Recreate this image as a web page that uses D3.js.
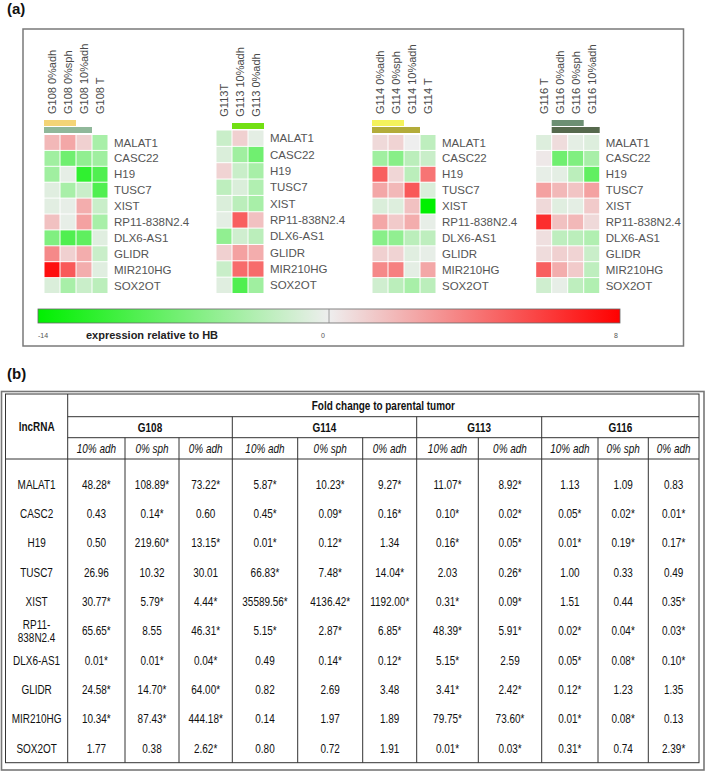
<!DOCTYPE html>
<html><head><meta charset="utf-8">
<script src="https://cdn.jsdelivr.net/npm/d3@7"></script>
<style>body{margin:0;background:#fff}svg{display:block;font-family:Arial,"Liberation Sans",sans-serif}</style>
</head><body><svg id="c" width="707" height="772"></svg>
<script>
// ---------- Panel (a) data ----------
const genes = ["MALAT1","CASC22","H19","TUSC7","XIST","RP11-838N2.4","DLX6-AS1","GLIDR","MIR210HG","SOX2OT"];
const g108Cols = ["G108 0%adh","G108 0%sph","G108 10%adh","G108 T"];
const g113Cols = ["G113T","G113 10%adh","G113 0%adh"];
const g114Cols = ["G114 0%adh","G114 0%sph","G114 10%adh","G114 T"];
const g116Cols = ["G116 T","G116 0%adh","G116 0%sph","G116 10%adh"];
const g108Vals = [[1.8,2.4,1,-4.1],[-4.6,-7.4,-5.5,-4.6],[-4.6,-0.5,-11.2,-9.3],[-0.8,-4.1,-2.2,-9.3],[-0.7,-0.4,2.2,-2.2],
  [1.5,-0.4,2.6,-4.1],[-6.5,-9.3,-8.4,-0.8],[3.4,1,2.2,-2.2],[7.5,5,2.2,-0.8],[-1.2,-4.1,-2.2,-3]];
const g113Vals = [[-2.2,1,-0.6],[-1.2,-4.6,-7.4],[0.9,-2.2,-4.1],[-2.8,-1.2,-3.6],[-1.2,-3,-4.1],
  [-0.6,4.8,1.5],[-5.5,-1.8,-3],[1,2.6,2.2],[-2.2,4.4,4.4],[-0.8,-9.3,-4.6]];
const g114Vals = [[0.7,0.9,0,-2.8],[-4.6,-6,-3,-2.2],[4.8,0.8,-3,4.1],[2.4,1.8,5,-1.2],[-1.2,-1,1.5,-14],
  [2.4,1.2,2.2,-0.4],[-6,-5.5,-3,-2.8],[1,0.9,-0.8,-0.4],[3.4,3.7,-0.6,2.4],[-1.8,-3,-4.1,-3]];
const g116Vals = [[-1,0.6,-0.6,-1],[0.2,-7.4,-6.5,-4.1],[-0.4,-0.6,-3,-8.3],[2.6,1.8,1.4,2.6],[0.7,-0.8,-0.6,1.2],
  [6.5,1.5,1.8,0.7],[0.5,-2.8,-3,-3.6],[0.6,1,0.9,-2.2],[4.8,2.2,1.2,-2.8],[-1.8,-0.4,-2.8,-3.6]];
// annotation bars: [level, first column index, last column index]
const g108Bars = [[0,0,1],[1,0,2]];
const g113Bars = [[0,1,2]];
const g114Bars = [[0,0,1],[1,0,2]];
const g116Bars = [[0,1,2],[1,1,3]];
const colorTicks = [-14,0,8];
const colorDomain = [-14,0,8];
const colorTitle = "expression relative to HB";

// ---------- Panel (b) data ----------
const tableTitle = "Fold change to parental tumor";
const tableRowHead = "lncRNA";
const tableGroups = ["G108","G114","G113","G116"];
const tableSubs = [["10% adh","0% sph","0% adh"],["10% adh","0% sph","0% adh"],["10% adh","0% adh"],["10% adh","0% sph","0% adh"]];
const tableRows = ["MALAT1","CASC2","H19","TUSC7","XIST","RP11-\n838N2.4","DLX6-AS1","GLIDR","MIR210HG","SOX2OT"];
const foldValues = [
 ["48.28*","108.89*","73.22*","5.87*","10.23*","9.27*","11.07*","8.92*","1.13","1.09","0.83"],
 ["0.43","0.14*","0.60","0.45*","0.09*","0.16*","0.10*","0.02*","0.05*","0.02*","0.01*"],
 ["0.50","219.60*","13.15*","0.01*","0.12*","1.34","0.16*","0.05*","0.01*","0.19*","0.17*"],
 ["26.96","10.32","30.01","66.83*","7.48*","14.04*","2.03","0.26*","1.00","0.33","0.49"],
 ["30.77*","5.79*","4.44*","35589.56*","4136.42*","1192.00*","0.31*","0.09*","1.51","0.44","0.35*"],
 ["65.65*","8.55","46.31*","5.15*","2.87*","6.85*","48.39*","5.91*","0.02*","0.04*","0.03*"],
 ["0.01*","0.01*","0.04*","0.49","0.14*","0.12*","5.15*","2.59","0.05*","0.08*","0.10*"],
 ["24.58*","14.70*","64.00*","0.82","2.69","3.48","3.41*","2.42*","0.12*","1.23","1.35"],
 ["10.34*","87.43*","444.18*","0.14","1.97","1.89","79.75*","73.60*","0.01*","0.08*","0.13"],
 ["1.77","0.38","2.62*","0.80","0.72","1.91","0.01*","0.03*","0.31*","0.74","2.39*"]
];

// ---------- layout / styles ----------
const svg = d3.select("#c");
svg.append("rect").attr("width",707).attr("height",772).attr("fill","#fff");

const color = d3.scaleLinear().domain(colorDomain).range(["#00f000","#eeeeee","#ff0000"]);

svg.append("text").attr("x",7).attr("y",14).attr("font-size",15).attr("font-weight","bold").attr("fill","#111").text("(a)");
svg.append("rect").attr("x",23).attr("y",29).attr("width",660.5).attr("height",317)
  .attr("fill","none").attr("stroke","#7a7a7a").attr("stroke-width",1.5);

const blocks = [
  {cols:g108Cols, vals:g108Vals, bars:g108Bars, x0:44, top:134.5, barTop:120, labBase:114, barColors:["#f3d477","#90b89a"]},
  {cols:g113Cols, vals:g113Vals, bars:g113Bars, x0:216, top:130, barTop:123, labBase:116.7, barColors:["#72e012"]},
  {cols:g114Cols, vals:g114Vals, bars:g114Bars, x0:372, top:134.5, barTop:120, labBase:114, barColors:["#f4f25c","#b3ac3a"]},
  {cols:g116Cols, vals:g116Vals, bars:g116Bars, x0:535.7, top:134.5, barTop:120, labBase:114, barColors:["#6c8f73","#56694d"]}
];
const cw = 16, bottom = 293.5;

blocks.forEach(b => {
  const x = d3.scaleBand().domain(b.cols).range([b.x0, b.x0 + cw*b.cols.length]);
  const y = d3.scaleBand().domain(genes).range([b.top, bottom]);
  const g = svg.append("g");
  const cells = [];
  b.vals.forEach((row,i) => row.forEach((v,j) => cells.push({gene:genes[i], col:b.cols[j], v})));
  g.selectAll("rect.cell").data(cells).join("rect").attr("class","cell")
    .attr("x", d => x(d.col)+0.5).attr("y", d => y(d.gene)+0.5)
    .attr("width", x.bandwidth()-1).attr("height", y.bandwidth()-1)
    .attr("fill", d => color(d.v));
  // column labels
  g.selectAll("text.col").data(b.cols).join("text").attr("class","col")
    .attr("transform", d => `translate(${x(d)+x.bandwidth()/2+4},${b.labBase}) rotate(-90)`)
    .attr("font-size",11).attr("fill","#4a4a4a").text(d => d);
  // annotation bars
  g.selectAll("rect.bar").data(b.bars).join("rect").attr("class","bar")
    .attr("x", d => x(b.cols[d[1]])).attr("y", d => b.barTop + d[0]*7)
    .attr("width", d => x(b.cols[d[2]]) + x.bandwidth() - x(b.cols[d[1]])).attr("height",6)
    .attr("fill", (d,i) => b.barColors[i]);
  // row labels
  const lx = b.x0 + cw*b.cols.length + 6;
  g.selectAll("text.row").data(genes).join("text").attr("class","row")
    .attr("x", lx).attr("y", d => y(d) + y.bandwidth()/2).attr("dy","0.36em")
    .attr("font-size",11.5).attr("fill","#555").text(d => d);
});

// color bar
const cb = d3.scaleLinear().domain(colorDomain).range([38,329,620]);
const defs = svg.append("defs");
const grad = defs.append("linearGradient").attr("id","cbg").attr("x1","0%").attr("x2","100%");
colorDomain.forEach(v => grad.append("stop").attr("offset", ((cb(v)-cb(-14))/(cb(8)-cb(-14))*100)+"%").attr("stop-color", color(v)));
svg.append("rect").attr("x",cb(-14)).attr("y",309).attr("width",cb(8)-cb(-14)).attr("height",14)
  .attr("fill","url(#cbg)").attr("stroke","#666").attr("stroke-width",0.8);
svg.append("line").attr("x1",cb(0)).attr("x2",cb(0)).attr("y1",309).attr("y2",323).attr("stroke","#888").attr("stroke-width",0.8);
const tickOff = {"-14":[5,"middle"],"0":[-6,"middle"],"8":[-4,"middle"]};
svg.selectAll("text.cbt").data(colorTicks).join("text").attr("class","cbt")
  .attr("x", d => cb(d) + tickOff[String(d)][0]).attr("y",338).attr("text-anchor","middle")
  .attr("font-size",7).attr("fill","#555").text(d => d);
svg.append("text").attr("x",86).attr("y",339).attr("font-size",11).attr("font-weight","bold").attr("fill","#222").text(colorTitle);

// ---------- Panel (b) ----------
svg.append("text").attr("x",7).attr("y",379).attr("font-size",15).attr("font-weight","bold").attr("fill","#111").text("(b)");

const T = {left:5.5, right:699, top:394, r1:416.7, r2:437.7, r3:459, bottom:762.7};
svg.append("rect").attr("x",1.5).attr("y",391.5).attr("width",702.5).attr("height",378.5)
  .attr("fill","none").attr("stroke","#777").attr("stroke-width",1.6);
svg.append("rect").attr("x",T.left).attr("y",T.top).attr("width",T.right-T.left).attr("height",T.bottom-T.top)
  .attr("fill","none").attr("stroke","#333").attr("stroke-width",1);

// column edges (x positions of cell boundaries)
const colKeys = d3.range(12);
const colEdge = d3.scaleOrdinal().domain(colKeys).range([67.7,125,179,232.3,297.7,362.7,416.7,478.3,541.7,598,648.3,699]);
const groupStart = [0,3,6,8];
const groupEnd = [3,6,8,11];
const line = (x1,y1,x2,y2) => svg.append("line").attr("x1",x1).attr("y1",y1).attr("x2",x2).attr("y2",y2).attr("stroke","#333").attr("stroke-width",1);
line(colEdge(0),T.top,colEdge(0),T.bottom);
line(colEdge(0),T.r1,T.right,T.r1);
line(colEdge(0),T.r2,T.right,T.r2);
line(T.left,T.r3,T.right,T.r3);
groupEnd.slice(0,3).forEach(e => line(colEdge(e),T.r1,colEdge(e),T.bottom));
d3.range(1,11).filter(k => !groupEnd.includes(k)).forEach(k => line(colEdge(k),T.r2,colEdge(k),T.bottom));

const sx = 0.83;
function ttext(x,y,str,opt={}) {
  const t = svg.append("text").attr("transform",`translate(${x},${y}) scale(${sx},1)`)
    .attr("text-anchor","middle").attr("font-size",opt.size||12).attr("fill","#111");
  if (opt.bold) t.attr("font-weight","bold");
  if (opt.italic) t.attr("font-style","italic");
  t.text(str);
  return t;
}
ttext((colEdge(0)+T.right)/2, 409.5, tableTitle, {bold:true});
ttext((T.left+colEdge(0))/2, 431, tableRowHead, {bold:true});
tableGroups.forEach((gname,i) => {
  ttext((colEdge(groupStart[i])+colEdge(groupEnd[i]))/2, 431.5, gname, {bold:true});
  tableSubs[i].forEach((s,j) => {
    const k = groupStart[i]+j;
    ttext((colEdge(k)+colEdge(k+1))/2, 452.5, s, {italic:true});
  });
});
const rowY = d3.scaleLinear().domain([0,tableRows.length-1]).range([484.5,748.3]);
tableRows.forEach((r,i) => {
  const parts = r.split("\n");
  parts.forEach((p,pi) => {
    ttext((T.left+colEdge(0))/2, rowY(i) + 4.2 + (pi - (parts.length-1)/2)*13.5, p);
  });
  foldValues[i].forEach((v,k) => {
    ttext((colEdge(k)+colEdge(k+1))/2, rowY(i)+4.2, v);
  });
});
</script></body></html>
